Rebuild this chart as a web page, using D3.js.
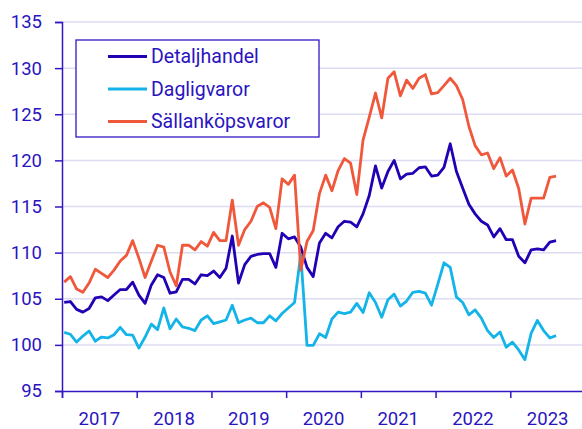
<!DOCTYPE html>
<html>
<head>
<meta charset="utf-8">
<script src="https://cdn.jsdelivr.net/npm/d3@7"></script>
<style>
  body { margin: 0; background: #fff; }
  text { font-family: Roboto, "Noto Sans", sans-serif; }
</style>
</head>
<body>
<div id="chart"></div>
<script>
// monthly index, jan 2017 - aug 2023
const startYear = 2017;
const years = [2017, 2018, 2019, 2020, 2021, 2022, 2023];
const yTicks = [95, 100, 105, 110, 115, 120, 125, 130, 135];

const detaljhandel = [
  104.6, 104.7, 103.85, 103.55, 103.95, 105.1, 105.2, 104.8, 105.4, 106.0, 106.0, 106.8,
  105.4, 104.5, 106.5, 107.6, 107.3, 105.6, 105.75, 107.1, 107.1, 106.6, 107.6, 107.5,
  108.0, 107.3, 108.3, 111.8, 106.7, 108.7, 109.6, 109.8, 109.9, 109.9, 108.4, 112.1,
  111.5, 111.7, 110.6, 108.4, 107.4, 111.05, 112.1, 111.6, 112.8, 113.4, 113.3, 112.8,
  114.2, 116.2, 119.4, 117.0, 118.8, 120.0, 118.0, 118.5, 118.6, 119.2, 119.3, 118.3,
  118.4, 119.25, 121.8, 118.8, 117.0, 115.25, 114.2, 113.4, 113.0, 111.7, 112.6, 111.4,
  111.4, 109.6, 108.9, 110.3, 110.4, 110.3, 111.15, 111.3
];

const dagligvaror = [
  101.35, 101.15, 100.3, 100.95, 101.5, 100.4, 100.85, 100.75, 101.1, 101.9, 101.1, 101.05,
  99.65, 100.85, 102.25, 101.65, 104.0, 101.75, 102.8, 101.95, 101.8, 101.55, 102.7, 103.15,
  102.3, 102.5, 102.7, 104.3, 102.4, 102.7, 102.9, 102.4, 102.4, 103.15, 102.6, 103.4,
  104.0, 104.6, 109.8, 99.95, 99.95, 101.2, 100.8, 102.8, 103.55, 103.4, 103.55, 104.5,
  103.5, 105.65, 104.6, 103.0, 104.9, 105.5, 104.2, 104.75, 105.7, 105.8, 105.6, 104.3,
  106.55, 108.9, 108.4, 105.2, 104.6, 103.25, 103.8, 102.9, 101.55, 100.8, 101.4, 99.75,
  100.3, 99.45, 98.4, 101.25, 102.65, 101.55, 100.75, 101.0
];

const sallankopsvaror = [
  106.8, 107.4, 106.05, 105.7, 106.7, 108.2, 107.75, 107.3, 108.1, 109.1, 109.7, 111.3,
  109.4, 107.3, 109.1, 110.8, 110.6, 107.9, 106.4, 110.8, 110.8, 110.3, 111.2, 110.7,
  112.2, 111.3, 111.3, 115.7, 110.8, 112.5, 113.4, 115.0, 115.4, 114.9, 112.6, 118.0,
  117.4, 118.4, 108.1, 111.2, 112.4, 116.4, 118.4, 116.7, 118.9, 120.2, 119.7, 116.3,
  122.2, 124.7, 127.3, 124.6, 128.9, 129.6, 127.0, 128.7, 127.8, 128.9, 129.3, 127.2,
  127.35, 128.1, 128.9, 128.1, 126.6, 123.7, 121.6, 120.6, 120.8, 119.1, 120.3, 118.3,
  118.95, 116.95, 113.1, 115.9, 115.9, 115.9, 118.15, 118.3
];

const seriesNames = ['Detaljhandel', 'Dagligvaror', 'Sällanköpsvaror'];
const seriesData = [detaljhandel, dagligvaror, sallankopsvaror];
const seriesColors = ['#2200b4', '#14b4e8', '#f0583c'];

const textColor = '#2a14c0';
const axisColor = '#3018c4';
const gridColor = '#dcdcf2';

const width = 582;
const height = 429;
const margin = { top: 22, right: -3, bottom: 38, left: 62 };
const innerW = width - margin.left - margin.right;
const innerH = height - margin.top - margin.bottom;

const svg = d3.select('#chart').append('svg')
  .attr('width', width)
  .attr('height', height);

const g = svg.append('g')
  .attr('transform', 'translate(' + margin.left + ',' + margin.top + ')');

const x = d3.scaleLinear()
  .domain([2017, 2024])
  .range([0, innerW]);

const y = d3.scaleLinear()
  .domain([95, 135])
  .range([innerH, 0]);

// month index -> fractional year
const monthPos = i => startYear + (i + 0.35) / 12;

// gridlines
g.append('g')
  .selectAll('line')
  .data(yTicks.filter(d => d > 95))
  .join('line')
  .attr('x1', 0)
  .attr('x2', innerW)
  .attr('y1', d => y(d))
  .attr('y2', d => y(d))
  .attr('stroke', gridColor)
  .attr('stroke-width', 1.5);

// y axis
const yAxis = d3.axisLeft(y)
  .tickValues(yTicks)
  .tickSize(7)
  .tickPadding(13);

const yg = g.append('g').call(yAxis);
yg.select('.domain').attr('stroke', axisColor).attr('stroke-width', 1.5);
yg.selectAll('.tick line').attr('stroke', axisColor).attr('stroke-width', 1.5);
yg.selectAll('.tick text')
  .attr('fill', textColor)
  .style('font-size', '18.5px');

// x axis
const xAxis = d3.axisBottom(x)
  .tickValues(years)
  .tickSize(7)
  .tickFormat('');

const xg = g.append('g')
  .attr('transform', 'translate(0,' + innerH + ')')
  .call(xAxis);
xg.select('.domain').attr('stroke', axisColor).attr('stroke-width', 1.5);
xg.selectAll('.tick line').attr('stroke', axisColor).attr('stroke-width', 1.5);

xg.selectAll('.year')
  .data(years)
  .join('text')
  .attr('class', 'year')
  .attr('x', d => x(d + 0.5))
  .attr('y', 34)
  .attr('text-anchor', 'middle')
  .attr('fill', textColor)
  .style('font-size', '18.5px')
  .text(d => d);

// lines
const line = d3.line()
  .x((d, i) => x(monthPos(i)))
  .y(d => y(d));

g.append('g')
  .selectAll('path')
  .data(seriesData)
  .join('path')
  .attr('d', d => line(d))
  .attr('fill', 'none')
  .attr('stroke', (d, i) => seriesColors[i])
  .attr('stroke-width', 2.8)
  .attr('stroke-linejoin', 'round');

// legend
const legend = svg.append('g')
  .attr('transform', 'translate(76,40)');

legend.append('rect')
  .attr('width', 243)
  .attr('height', 97)
  .attr('fill', '#fff')
  .attr('stroke', axisColor)
  .attr('stroke-width', 1.3);

const items = legend.selectAll('.item')
  .data(seriesNames)
  .join('g')
  .attr('class', 'item')
  .attr('transform', (d, i) => 'translate(0,' + (16.5 + i * 32.5) + ')');

items.append('line')
  .attr('x1', 32)
  .attr('x2', 71)
  .attr('stroke', (d, i) => seriesColors[i])
  .attr('stroke-width', 3);

items.append('text')
  .attr('x', 75)
  .attr('dy', '0.35em')
  .attr('fill', textColor)
  .style('font-size', '19.5px')
  .text(d => d);
</script>
</body>
</html>
